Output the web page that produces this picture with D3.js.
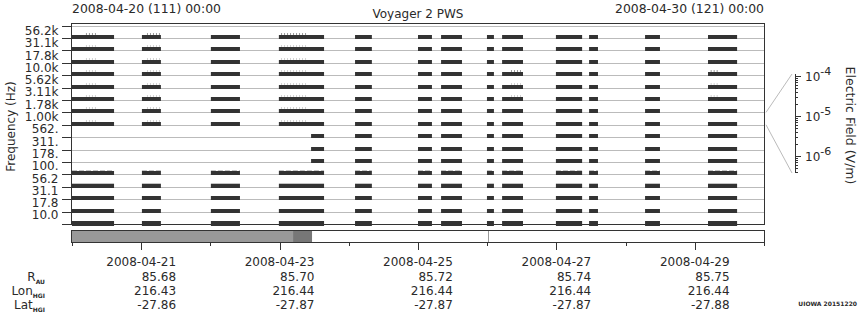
<!DOCTYPE html>
<html>
<head>
<meta charset="utf-8">
<script src="https://cdn.jsdelivr.net/npm/d3@7"></script>
<style>
  body { margin: 0; background: #fff; }
  svg { display: block; font-family: "DejaVu Sans", sans-serif; }
  text { fill: #2a2a2a; }
</style>
</head>
<body>
<div id="chart"></div>
<script>
// frequency channels, top to bottom
const freqLabels = ["56.2k", "31.1k", "17.8k", "10.0k", "5.62k", "3.11k", "1.78k", "1.00k",
                    "562.", "311.", "178.", "100.", "56.2", "31.1", "17.8", "10.0"];

// spans of data (UT)
const segStart = ["2008-04-20T00:00", "2008-04-21T00:15", "2008-04-22T00:10", "2008-04-22T23:45",
                  "2008-04-24T02:10", "2008-04-25T00:00", "2008-04-25T08:00", "2008-04-25T23:55",
                  "2008-04-26T05:10", "2008-04-26T23:50", "2008-04-27T11:20", "2008-04-28T06:45",
                  "2008-04-29T04:35"];
const segEnd   = ["2008-04-20T14:35", "2008-04-21T06:50", "2008-04-22T10:15", "2008-04-23T15:25",
                  "2008-04-24T08:00", "2008-04-25T04:50", "2008-04-25T15:15", "2008-04-26T02:20",
                  "2008-04-26T12:25", "2008-04-27T08:55", "2008-04-27T14:25", "2008-04-28T11:55",
                  "2008-04-29T14:40"];

// these channels only start part way through
const lateChannels = ["562.", "311.", "178."];
const lateStart = "2008-04-23T10:55";

// bursts of raised signal above the noise floor
const burstFrom = ["2008-04-20T04:50", "2008-04-21T02:00", "2008-04-23T00:30"];
const burstTo   = ["2008-04-20T09:00", "2008-04-21T06:30", "2008-04-23T09:30"];
const burstChannels = ["56.2k", "31.1k", "17.8k", "10.0k", "5.62k", "3.11k", "1.78k", "1.00k"];
const burst2From = ["2008-04-26T08:15", "2008-04-29T05:30"];
const burst2To   = ["2008-04-26T12:05", "2008-04-29T08:35"];
const burst2Channels = ["10.0k", "5.62k", "3.11k"];
const noisyChannels = ["100.", "56.2"];

// coverage strip under the plot
const coverStart = ["2008-04-20T00:00", "2008-04-23T04:40"];
const coverEnd   = ["2008-04-23T04:40", "2008-04-23T11:15"];
const coverMark  = "2008-04-26T00:20";

// ephemeris rows
const tickDates = ["2008-04-21", "2008-04-23", "2008-04-25", "2008-04-27", "2008-04-29"];
const rAU    = ["85.68", "85.70", "85.72", "85.74", "85.75"];
const lonHGI = ["216.43", "216.44", "216.44", "216.44", "216.44"];
const latHGI = ["-27.86", "-27.87", "-27.87", "-27.87", "-27.88"];

// electric field scale (V/m)
const fieldDomain = [Math.pow(10, -6.42), Math.pow(10, -3.95)];
const scaleChannel = "1.00k";

const width = 860, height = 320;
const pLeft = 72, pRight = 764, pTop = 23, pBottom = 224;

const parse = d3.isoParse;
const x = d3.scaleUtc()
  .domain([parse("2008-04-20T00:00Z"), parse("2008-04-30T00:00Z")])
  .range([pLeft, pRight]);
const t = s => x(parse(s + (s.length > 10 ? "Z" : "T00:00Z")));

const y = d3.scaleBand()
  .domain(freqLabels)
  .range([25.6, pBottom]);
const bw = y.bandwidth();

const svg = d3.select("#chart").append("svg")
  .attr("width", width)
  .attr("height", height);

// header
svg.append("text")
  .attr("x", pLeft).attr("y", 12.5)
  .style("font-size", "12.4px")
  .text("2008-04-20 (111) 00:00");
svg.append("text")
  .attr("x", pRight).attr("y", 12.5)
  .attr("text-anchor", "end")
  .style("font-size", "12.4px")
  .text("2008-04-30 (121) 00:00");
svg.append("text")
  .attr("x", (pLeft + pRight) / 2).attr("y", 18)
  .attr("text-anchor", "middle")
  .style("font-size", "12px")
  .text("Voyager 2 PWS");

// channel baselines
const grid = svg.append("g");
grid.selectAll("line")
  .data(freqLabels)
  .join("line")
    .attr("x1", pLeft).attr("x2", pRight)
    .attr("y1", d => Math.round(y(d)) + 0.5)
    .attr("y2", d => Math.round(y(d)) + 0.5)
    .attr("stroke", "#bbb");

// data bars, sitting on the bottom of each channel band
const segs = d3.range(segStart.length).map(i => ({s: segStart[i], e: segEnd[i]}));
const base = ch => Math.round(y(ch) + bw);
const rows = svg.append("g");
freqLabels.forEach((ch, k) => {
  const late = lateChannels.includes(ch);
  const x0 = d => late ? Math.max(t(d.s), t(lateStart)) : t(d.s);
  const g = rows.append("g");
  if (noisyChannels.includes(ch)) {
    g.selectAll("line")
      .data(segs)
      .join("line")
        .attr("x1", d => t(d.s)).attr("x2", d => t(d.e))
        .attr("y1", base(ch) - 3.5).attr("y2", base(ch) - 3.5)
        .attr("stroke", "#c4c4c4")
        .attr("stroke-dasharray", k % 2 ? "5,2" : null);
  }
  g.selectAll("rect")
    .data(segs.filter(d => !late || t(d.e) > t(lateStart)))
    .join("rect")
      .attr("x", x0)
      .attr("width", d => t(d.e) - x0(d))
      .attr("y", base(ch) - 3)
      .attr("height", k == freqLabels.length - 1 ? 5 : 4)
      .attr("fill", "#333");
});

// bursts drawn as fine ticks just above the bars
function drawBursts(from, to, chans) {
  const g = svg.append("g");
  chans.forEach((ch, k) => {
    g.append("g").selectAll("line")
      .data(d3.range(from.length))
      .join("line")
        .attr("x1", i => t(from[i])).attr("x2", i => t(to[i]))
        .attr("y1", base(ch) - 4).attr("y2", base(ch) - 4)
        .attr("stroke", k == 0 ? "#777" : "#c2c2c2")
        .attr("stroke-width", 1.4)
        .attr("stroke-dasharray", "1,2");
  });
}
drawBursts(burstFrom, burstTo, burstChannels);
drawBursts(burst2From, burst2To, burst2Channels);

// frame
svg.append("rect")
  .attr("x", pLeft - 0.5).attr("y", pTop + 0.5)
  .attr("width", pRight - pLeft + 1).attr("height", pBottom - pTop)
  .attr("fill", "none")
  .attr("stroke", "#333");

// left axis: ticks on band edges, labels in band centres
const edges = freqLabels.map(d => y(d)).concat([pBottom]);
svg.append("g").selectAll("line")
  .data(edges)
  .join("line")
    .attr("x1", pLeft - 10).attr("x2", pLeft)
    .attr("y1", d => Math.round(d) + 0.5).attr("y2", d => Math.round(d) + 0.5)
    .attr("stroke", "#333");
svg.append("g").selectAll("text")
  .data(freqLabels)
  .join("text")
    .attr("x", 58.5)
    .attr("y", (d, i) => y(d) + bw / 2 - 1.2 - i * 0.1)
    .attr("dy", "0.36em")
    .attr("text-anchor", "end")
    .style("font-size", "12px")
    .text(d => d);
svg.append("text")
  .attr("transform", `translate(15,${(pTop + pBottom) / 2 + 3}) rotate(-90)`)
  .attr("text-anchor", "middle")
  .style("font-size", "12px")
  .text("Frequency (Hz)");

// electric field scale
const cb = d3.scaleLog().domain(fieldDomain).range([173, 74]);
const cbx = 795;
const band = y(scaleChannel);
svg.append("path")
  .attr("d", `M${pRight + 2},${band}L${cbx - 3},${cb.range()[1]}M${pRight + 2},${band + bw}L${cbx - 3},${cb.range()[0]}`)
  .attr("fill", "none")
  .attr("stroke", "#bbb");
const cbg = svg.append("g");
cbg.append("line")
  .attr("x1", cbx + 0.5).attr("x2", cbx + 0.5)
  .attr("y1", cb.range()[1]).attr("y2", cb.range()[0])
  .attr("stroke", "#333");
const isDecade = d => Math.abs(Math.log10(d) - Math.round(Math.log10(d))) < 1e-6;
const cbTicks = cb.ticks();
cbg.selectAll("line.tk")
  .data(cbTicks)
  .join("line")
    .attr("class", "tk")
    .attr("x1", cbx)
    .attr("x2", d => cbx + (isDecade(d) ? 6 : 3))
    .attr("y1", d => Math.round(cb(d)) + 0.5)
    .attr("y2", d => Math.round(cb(d)) + 0.5)
    .attr("stroke", "#333");
const lab = cbg.selectAll("text")
  .data(cbTicks.filter(isDecade))
  .join("text")
    .attr("x", cbx + 10)
    .attr("y", d => cb(d) + 5)
    .style("font-size", "12px");
lab.append("tspan").text("10");
lab.append("tspan")
  .attr("dy", -6)
  .style("font-size", "11px")
  .text(d => Math.round(Math.log10(d)));
svg.append("text")
  .attr("transform", `translate(846,${(pTop + pBottom) / 2 + 2}) rotate(90)`)
  .attr("text-anchor", "middle")
  .style("font-size", "12.5px")
  .text("Electric Field (V/m)");

// coverage strip
const strip = svg.append("g");
const cover = d3.range(coverStart.length).map(i => ({s: coverStart[i], e: coverEnd[i], i}));
strip.selectAll("rect")
  .data(cover)
  .join("rect")
    .attr("x", d => t(d.s)).attr("width", d => t(d.e) - t(d.s))
    .attr("y", 231).attr("height", 12)
    .attr("fill", d => d.i == 0 ? "#999" : "#777");
strip.append("line")
  .attr("x1", Math.round(t(coverMark)) + 0.5).attr("x2", Math.round(t(coverMark)) + 0.5)
  .attr("y1", 231).attr("y2", 243)
  .attr("stroke", "#999");
strip.append("rect")
  .attr("x", pLeft - 0.5).attr("y", 230.5)
  .attr("width", pRight - pLeft + 1).attr("height", 12)
  .attr("fill", "none")
  .attr("stroke", "#333");

// time axis
const days = d3.utcDay.range(x.domain()[0], d3.utcDay.offset(x.domain()[1], 1));
const majors = tickDates.map(d => +parse(d + "T00:00Z"));
svg.append("g").selectAll("line")
  .data(days)
  .join("line")
    .attr("x1", d => Math.round(x(d)) + 0.5).attr("x2", d => Math.round(x(d)) + 0.5)
    .attr("y1", 243)
    .attr("y2", d => majors.includes(+d) ? 250 : 246)
    .attr("stroke", "#333");

// ephemeris table
const table = [tickDates, rAU, lonHGI, latHGI];
const rowY = [266, 280.5, 295, 309];
const dateW = 69.7;
table.forEach((vals, r) => {
  svg.append("g").selectAll("text")
    .data(vals)
    .join("text")
      .attr("x", (d, i) => t(tickDates[i]) + dateW / 2)
      .attr("y", rowY[r])
      .attr("text-anchor", "end")
      .style("font-size", "12px")
      .text(d => d);
});
const rowNames = [["R", "AU"], ["Lon", "HGI"], ["Lat", "HGI"]];
rowNames.forEach((n, r) => {
  const tx = svg.append("text")
    .attr("x", 45).attr("y", rowY[r + 1])
    .attr("text-anchor", "end")
    .style("font-size", "12px");
  tx.append("tspan").text(n[0]);
  tx.append("tspan")
    .attr("dy", 3)
    .style("font-size", "6px")
    .style("font-weight", "bold")
    .text(n[1]);
});

svg.append("text")
  .attr("x", 857).attr("y", 306)
  .attr("text-anchor", "end")
  .style("font-size", "6px")
  .style("font-weight", "bold")
  .text("UIOWA 20151220");
</script>
</body>
</html>
